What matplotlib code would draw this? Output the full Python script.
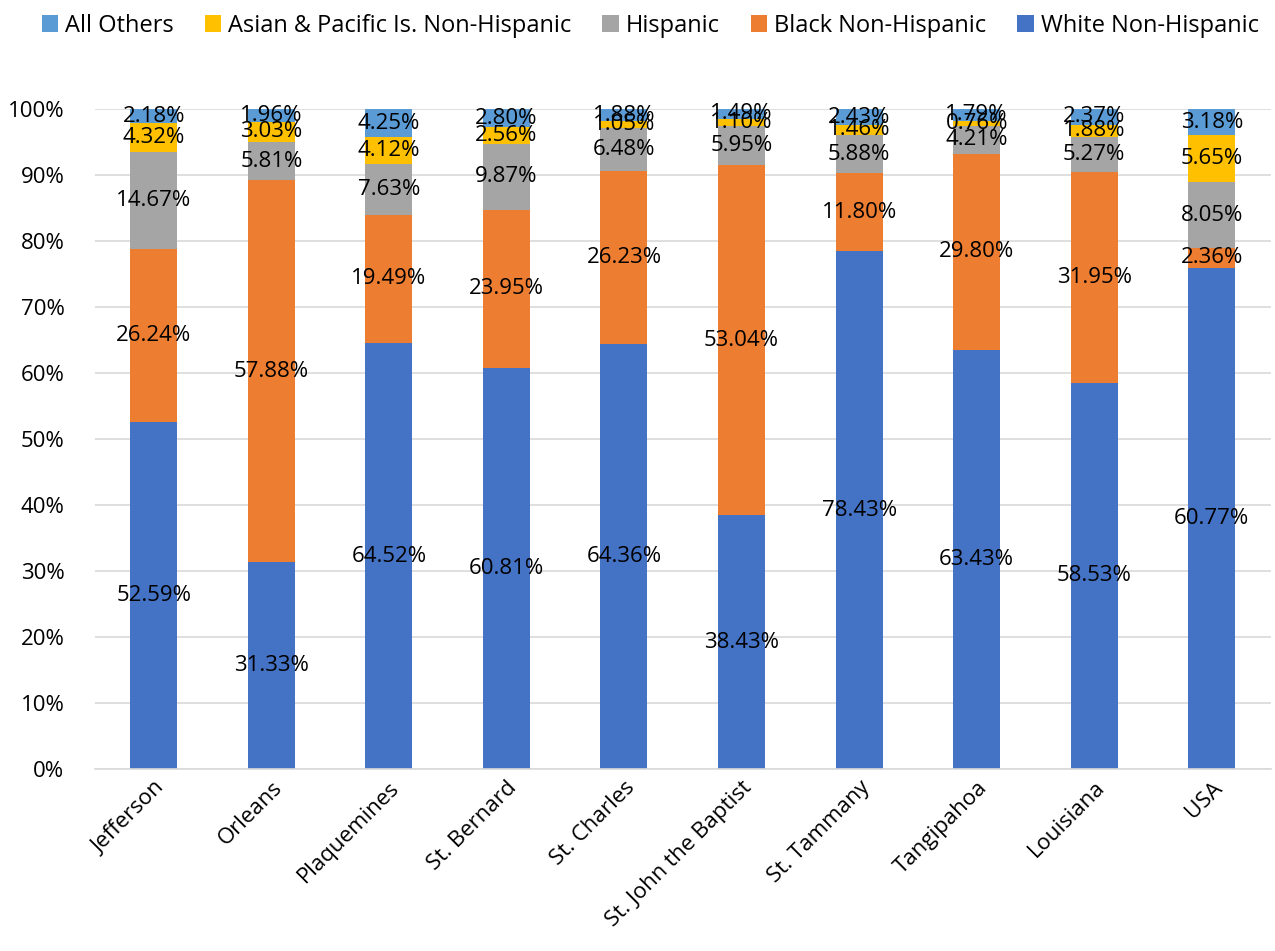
import numpy as np
import matplotlib
matplotlib.use("Agg")
import matplotlib.pyplot as plt
from matplotlib.ticker import FuncFormatter

plt.rcParams['font.family'] = ['Open Sans', 'DejaVu Sans']

# Datos del gráfico (porcentajes por parroquia)
areas = ['Jefferson', 'Orleans', 'Plaquemines', 'St. Bernard', 'St. Charles',
         'St. John the Baptist', 'St. Tammany', 'Tangipahoa', 'Louisiana', 'USA']
white = [52.59, 31.33, 64.52, 60.81, 64.36, 38.43, 78.43, 63.43, 58.53, 60.77]
black = [26.24, 57.88, 19.49, 23.95, 26.23, 53.04, 11.80, 29.80, 31.95, 2.36]
hispanic = [14.67, 5.81, 7.63, 9.87, 6.48, 5.95, 5.88, 4.21, 5.27, 8.05]
asian = [4.32, 3.03, 4.12, 2.56, 1.05, 1.10, 1.46, 0.76, 1.88, 5.65]
others = [2.18, 1.96, 4.25, 2.80, 1.88, 1.49, 2.43, 1.79, 2.37, 3.18]

series = [
    ('White Non-Hispanic', white, '#4472C4'),
    ('Black Non-Hispanic', black, '#ED7D31'),
    ('Hispanic', hispanic, '#A5A5A5'),
    ('Asian & Pacific Is. Non-Hispanic', asian, '#FFC000'),
    ('All Others', others, '#5B9BD5'),
]

vals = np.array([s[1] for s in series])
totals = vals.sum(axis=0)
shares = vals / totals  # gráfico 100% apilado

fig = plt.figure(figsize=(12.75, 9.51), dpi=100)
ax = fig.add_axes([0.0745, 0.1914, 0.922, 0.694])

x = np.arange(len(areas))
bottom = np.zeros(len(areas))
handles = []
for (nombre, v, color), sh in zip(series, shares):
    b = ax.bar(x, sh, 0.4, bottom=bottom, color=color, label=nombre, zorder=2)
    handles.append(b)
    for xi, bi, hi, lab in zip(x, bottom, sh, v):
        ax.text(xi, bi + hi / 2, f'{lab:.2f}%', ha='center', va='center',
                fontsize=16, color='black', zorder=3)
    bottom = bottom + sh

ax.set_xlim(-0.5, len(areas) - 0.5)
ax.set_ylim(0, 1)
ax.set_yticks(np.arange(0, 1.01, 0.1))
ax.yaxis.set_major_formatter(FuncFormatter(lambda v, p: f'{v * 100:.0f}%'))
ax.grid(axis='y', color='#D9D9D9', linewidth=1.2, zorder=0)
ax.set_axisbelow(True)
for lado in ['left', 'right', 'top']:
    ax.spines[lado].set_visible(False)
ax.spines['bottom'].set_color('#D9D9D9')
ax.spines['bottom'].set_linewidth(1.2)
ax.tick_params(axis='both', length=0, labelsize=16)
ax.tick_params(axis='y', pad=22)
ax.tick_params(axis='x', pad=6)
ax.set_xticks(x)
ax.set_xticklabels(areas, rotation=45, ha='right', rotation_mode='anchor')

fig.legend(handles[::-1], [s[0] for s in series][::-1], loc='upper center',
           bbox_to_anchor=(0.51, 1.008), ncol=5, frameon=False, fontsize=17,
           handlelength=0.7, handleheight=0.7, handletextpad=0.3, columnspacing=1.3)

plt.savefig('out.png', dpi=100)
